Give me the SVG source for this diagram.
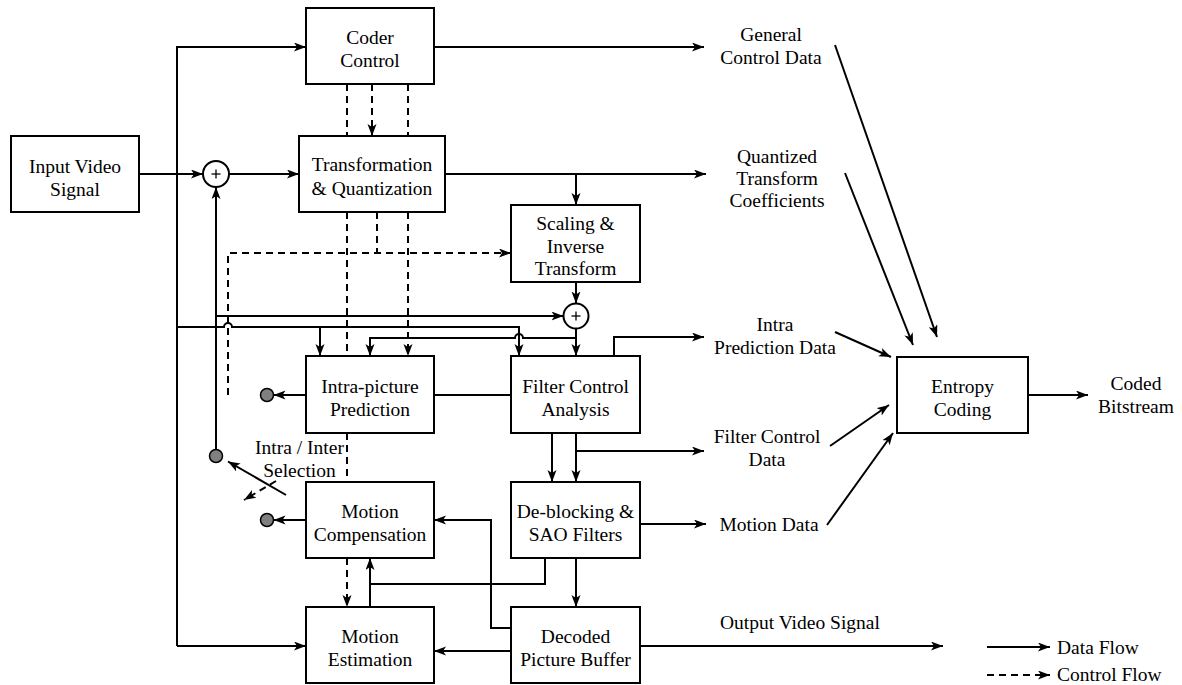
<svg xmlns="http://www.w3.org/2000/svg" width="1182" height="685" viewBox="0 0 1182 685">
<defs>
<marker id="ah" markerUnits="userSpaceOnUse" markerWidth="14" markerHeight="10" refX="12" refY="4.5" orient="auto"><path d="M0,0 L12,4.5 L0,9 L3,4.5 Z" fill="#000"/></marker>
</defs>
<style>
.box{fill:#fff;stroke:#000;stroke-width:2}
.t{font-family:'Liberation Serif','Times New Roman','DejaVu Serif',serif;font-size:19.5px;fill:#000;text-anchor:middle}
.ts{font-family:'Liberation Serif','Times New Roman','DejaVu Serif',serif;font-size:19.5px;fill:#000;text-anchor:start}
.ln{fill:none;stroke:#000;stroke-width:2}
.ar{marker-end:url(#ah)}
.da{stroke-dasharray:7 5}
.dot{fill:#808080;stroke:#000;stroke-width:1.5}
.sum{fill:#fff;stroke:#000;stroke-width:2}
.plus{stroke:#000;stroke-width:1.3}
</style>
<rect width="1182" height="685" fill="#fff"/>

<g id="input">
<rect class="box" x="11" y="136" width="128" height="76"/>
<text class="t" font-family="Liberation Serif, serif" x="75" y="173">Input Video</text>
<text class="t" font-family="Liberation Serif, serif" x="75" y="196">Signal</text>
</g>
<g id="coder-control">
<rect class="box" x="306" y="8" width="128" height="76"/>
<text class="t" x="370" y="44">Coder</text>
<text class="t" x="370" y="67">Control</text>
</g>
<g id="transform-quant">
<rect class="box" x="299" y="136" width="146" height="76"/>
<text class="t" x="372" y="171">Transformation</text>
<text class="t" x="372" y="195">&amp; Quantization</text>
</g>
<g id="scaling">
<rect class="box" x="511" y="205" width="129" height="77"/>
<text class="t" x="575.5" y="230">Scaling &amp;</text>
<text class="t" x="575.5" y="252.5">Inverse</text>
<text class="t" x="575.5" y="275">Transform</text>
</g>
<g id="intra-pred">
<rect class="box" x="306" y="356" width="128" height="77"/>
<text class="t" x="370" y="392.5">Intra-picture</text>
<text class="t" x="370" y="416">Prediction</text>
</g>
<g id="filter-control">
<rect class="box" x="511" y="356" width="129" height="77"/>
<text class="t" x="575.5" y="392.5">Filter Control</text>
<text class="t" x="575.5" y="416">Analysis</text>
</g>
<g id="motion-comp">
<rect class="box" x="306" y="482" width="128" height="76"/>
<text class="t" x="370" y="517.5">Motion</text>
<text class="t" x="370" y="540.5">Compensation</text>
</g>
<g id="deblocking">
<rect class="box" x="511" y="482" width="129" height="76"/>
<text class="t" x="575.5" y="517.5">De-blocking &amp;</text>
<text class="t" x="575.5" y="540.5">SAO Filters</text>
</g>
<g id="motion-est">
<rect class="box" x="306" y="607" width="128" height="76"/>
<text class="t" x="370" y="643">Motion</text>
<text class="t" x="370" y="666">Estimation</text>
</g>
<g id="dpb">
<rect class="box" x="511" y="607" width="129" height="76"/>
<text class="t" x="575.5" y="643">Decoded</text>
<text class="t" x="575.5" y="666">Picture Buffer</text>
</g>
<g id="entropy">
<rect class="box" x="897" y="357" width="131" height="76"/>
<text class="t" x="962.5" y="393">Entropy</text>
<text class="t" x="962.5" y="415.5">Coding</text>
</g>
<g id="sum1">
<circle class="sum" cx="216" cy="174" r="13"/>
<line class="plus" x1="211.5" y1="174" x2="220.5" y2="174"/>
<line class="plus" x1="216" y1="169.5" x2="216" y2="178.5"/>
</g>
<g id="sum2">
<circle class="sum" cx="576" cy="316" r="12.5"/>
<line class="plus" x1="571.5" y1="316" x2="580.5" y2="316"/>
<line class="plus" x1="576" y1="311.5" x2="576" y2="320.5"/>
</g>
<g id="switch-dots">
<circle class="dot" cx="216" cy="456" r="6.5"/>
<circle class="dot" cx="267" cy="395" r="6.5"/>
<circle class="dot" cx="267" cy="520" r="6.5"/>
</g>

<g id="labels">
<text class="t" x="771" y="41">General</text>
<text class="t" x="771" y="64">Control Data</text>
<text class="t" x="777" y="162.5">Quantized</text>
<text class="t" x="777" y="185">Transform</text>
<text class="t" x="777" y="207">Coefficients</text>
<text class="t" x="775" y="331">Intra</text>
<text class="t" x="775" y="353.5">Prediction Data</text>
<text class="t" x="767" y="443">Filter Control</text>
<text class="t" x="767" y="466">Data</text>
<text class="t" x="769" y="531">Motion Data</text>
<text class="t" x="1136" y="390">Coded</text>
<text class="t" x="1136" y="413">Bitstream</text>
<text class="t" x="299.5" y="454">Intra / Inter</text>
<text class="t" x="299.5" y="477">Selection</text>
<text class="ts" x="720" y="629">Output Video Signal</text>
<text class="ts" x="1057" y="654">Data Flow</text>
<text class="ts" x="1057" y="681">Control Flow</text>
</g>

<g id="connectors">
<path class="ln ar" d="M139,174 H203"/>
<path class="ln ar" d="M177,646 V47 H306"/>
<path class="ln ar" d="M177,646 H306"/>
<path class="ln ar" d="M229,174 H299"/>
<path class="ln ar" d="M216,449.5 V187"/>
<path class="ln ar" d="M216,316 H563.5"/>
<path class="ln ar" d="M177,327 H224 A4,4 0 0 1 232,327 H519 V356"/>
<path class="ln ar" d="M320,327 V356"/>
<path class="ln ar" d="M434,47 H704"/>
<path class="ln ar" d="M445,174 H706"/>
<path class="ln ar" d="M576,174 V205"/>
<path class="ln da" d="M347,84 V136"/>
<path class="ln da ar" d="M372,84 V136"/>
<path class="ln da" d="M408,84 V136"/>
<path class="ln da" d="M347,212 V356"/>
<path class="ln da" d="M347,433 V482"/>
<path class="ln da ar" d="M347,558 V607"/>
<path class="ln da" d="M377,212 V253"/>
<path class="ln da ar" d="M228,395 V253 H511"/>
<path class="ln da ar" d="M408,212 V356"/>
<path class="ln ar" d="M576,282 V303.5"/>
<path class="ln ar" d="M576,328.5 V356"/>
<path class="ln ar" d="M576,338 H523 A4,4 0 0 0 515,338 H370 V356"/>
<path class="ln" d="M434,395 H511"/>
<path class="ln ar" d="M306,395 H273.5"/>
<path class="ln ar" d="M306,520 H273.5"/>
<path class="ln ar" d="M286,495 L228,461.5"/>
<path class="ln da ar" d="M276,481 L244,500"/>
<path class="ln ar" d="M614,356 V337 H704"/>
<path class="ln ar" d="M552,433 V482"/>
<path class="ln ar" d="M576,433 V482"/>
<path class="ln ar" d="M576,451 H704"/>
<path class="ln ar" d="M640,524 H706"/>
<path class="ln ar" d="M576,558 V607"/>
<path class="ln" d="M545,558 V584 H370"/>
<path class="ln ar" d="M370,607 V558"/>
<path class="ln ar" d="M511,628 H491 V520 H434"/>
<path class="ln ar" d="M511,651 H434"/>
<path class="ln ar" d="M640,646 H943"/>
<path class="ln ar" d="M835,45 L937,337"/>
<path class="ln ar" d="M845,173 L913,345"/>
<path class="ln ar" d="M835,332 L891,357"/>
<path class="ln ar" d="M830,446 L889,405"/>
<path class="ln ar" d="M827,525 L893,433"/>
<path class="ln ar" d="M1028,395 H1088"/>
<path class="ln ar" d="M987,647 H1050"/>
<path class="ln da ar" d="M987,675 H1050"/>
</g>
</svg>
